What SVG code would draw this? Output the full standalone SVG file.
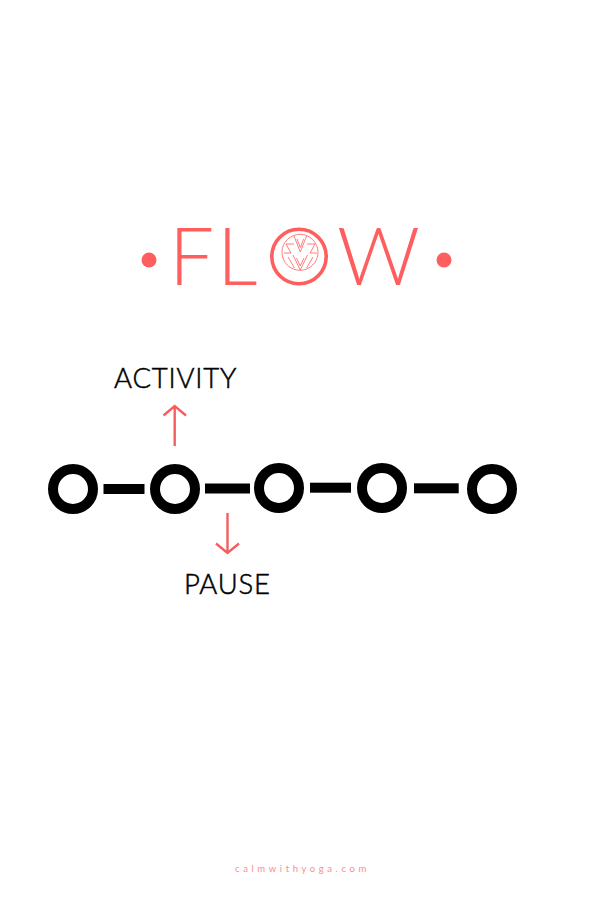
<svg xmlns="http://www.w3.org/2000/svg" width="600" height="900" viewBox="0 0 600 900">
<style>
.ring{fill:none;stroke:#000;stroke-width:10}
.bar{fill:#000}
.arrow{fill:none;stroke:#f65e5e;stroke-width:2.4}
.dot{fill:#ff5e5e}
.flow{font-family:"Lato","Liberation Sans",sans-serif;font-weight:300;font-size:80px;fill:#ff5e5e}
.label{font-family:"Lato","Liberation Sans",sans-serif;font-weight:300;font-size:27.5px;letter-spacing:.8px;fill:#000;stroke:#000;stroke-width:.5}
.foot{font-family:"Lato","Liberation Sans",sans-serif;font-size:9.5px;letter-spacing:3.6px;fill:#ff8a90}
.icon{fill:none;stroke:#ff5e5e;stroke-width:.8}
</style>
<rect width="600" height="900" fill="#fff"/>
<g id="title">
<circle class="dot" cx="149" cy="260" r="7.5"/>
<circle class="dot" cx="444" cy="260" r="7.5"/>
<text class="flow" x="169 217" y="285">FL</text>
<circle cx="299" cy="256.5" r="27.2" fill="none" stroke="#ff5e5e" stroke-width="3.6"/>
<text class="flow" x="337" y="285" textLength="83" lengthAdjust="spacingAndGlyphs">W</text>
</g>
<g id="icon">
<circle class="icon" cx="300" cy="252.3" r="18"/>
<path class="icon" d="M294 236L300.3 252L306.6 236M297 239L300.3 247.5L303.6 239M286 244H294M286 244L291 253H284M315 244H307M315 244L310 253H317M293 255L300.3 270L307.5 255M296.5 258L300.3 266M304 258L300.3 266M288 257L294.5 268M313 257L306.5 268"/>
</g>
<g id="connectors">
<rect class="bar" x="103.5" y="484" width="41" height="10"/>
<rect class="bar" x="205" y="483.5" width="45" height="10"/>
<rect class="bar" x="310" y="482.7" width="41" height="10"/>
<rect class="bar" x="414" y="483.3" width="44.7" height="10"/>
<path class="arrow" d="M174.7 446V406M163.5 415.5L174.7 406L186 415.5"/>
<path class="arrow" d="M227.5 513V553M216 543.5L227.5 553L239 543.5"/>
</g>
<g id="node1"><circle class="ring" cx="73" cy="489" r="20"/></g>
<g id="node2"><circle class="ring" cx="175" cy="489" r="20"/></g>
<g id="node3"><circle class="ring" cx="279" cy="488" r="20"/></g>
<g id="node4"><circle class="ring" cx="382" cy="488" r="20"/></g>
<g id="node5"><circle class="ring" cx="492" cy="489" r="20"/></g>
<text class="label" x="114" y="388">ACTIVITY</text>
<text class="label" x="184" y="594">PAUSE</text>
<text class="foot" x="235" y="872">calmwithyoga.com</text>
</svg>
